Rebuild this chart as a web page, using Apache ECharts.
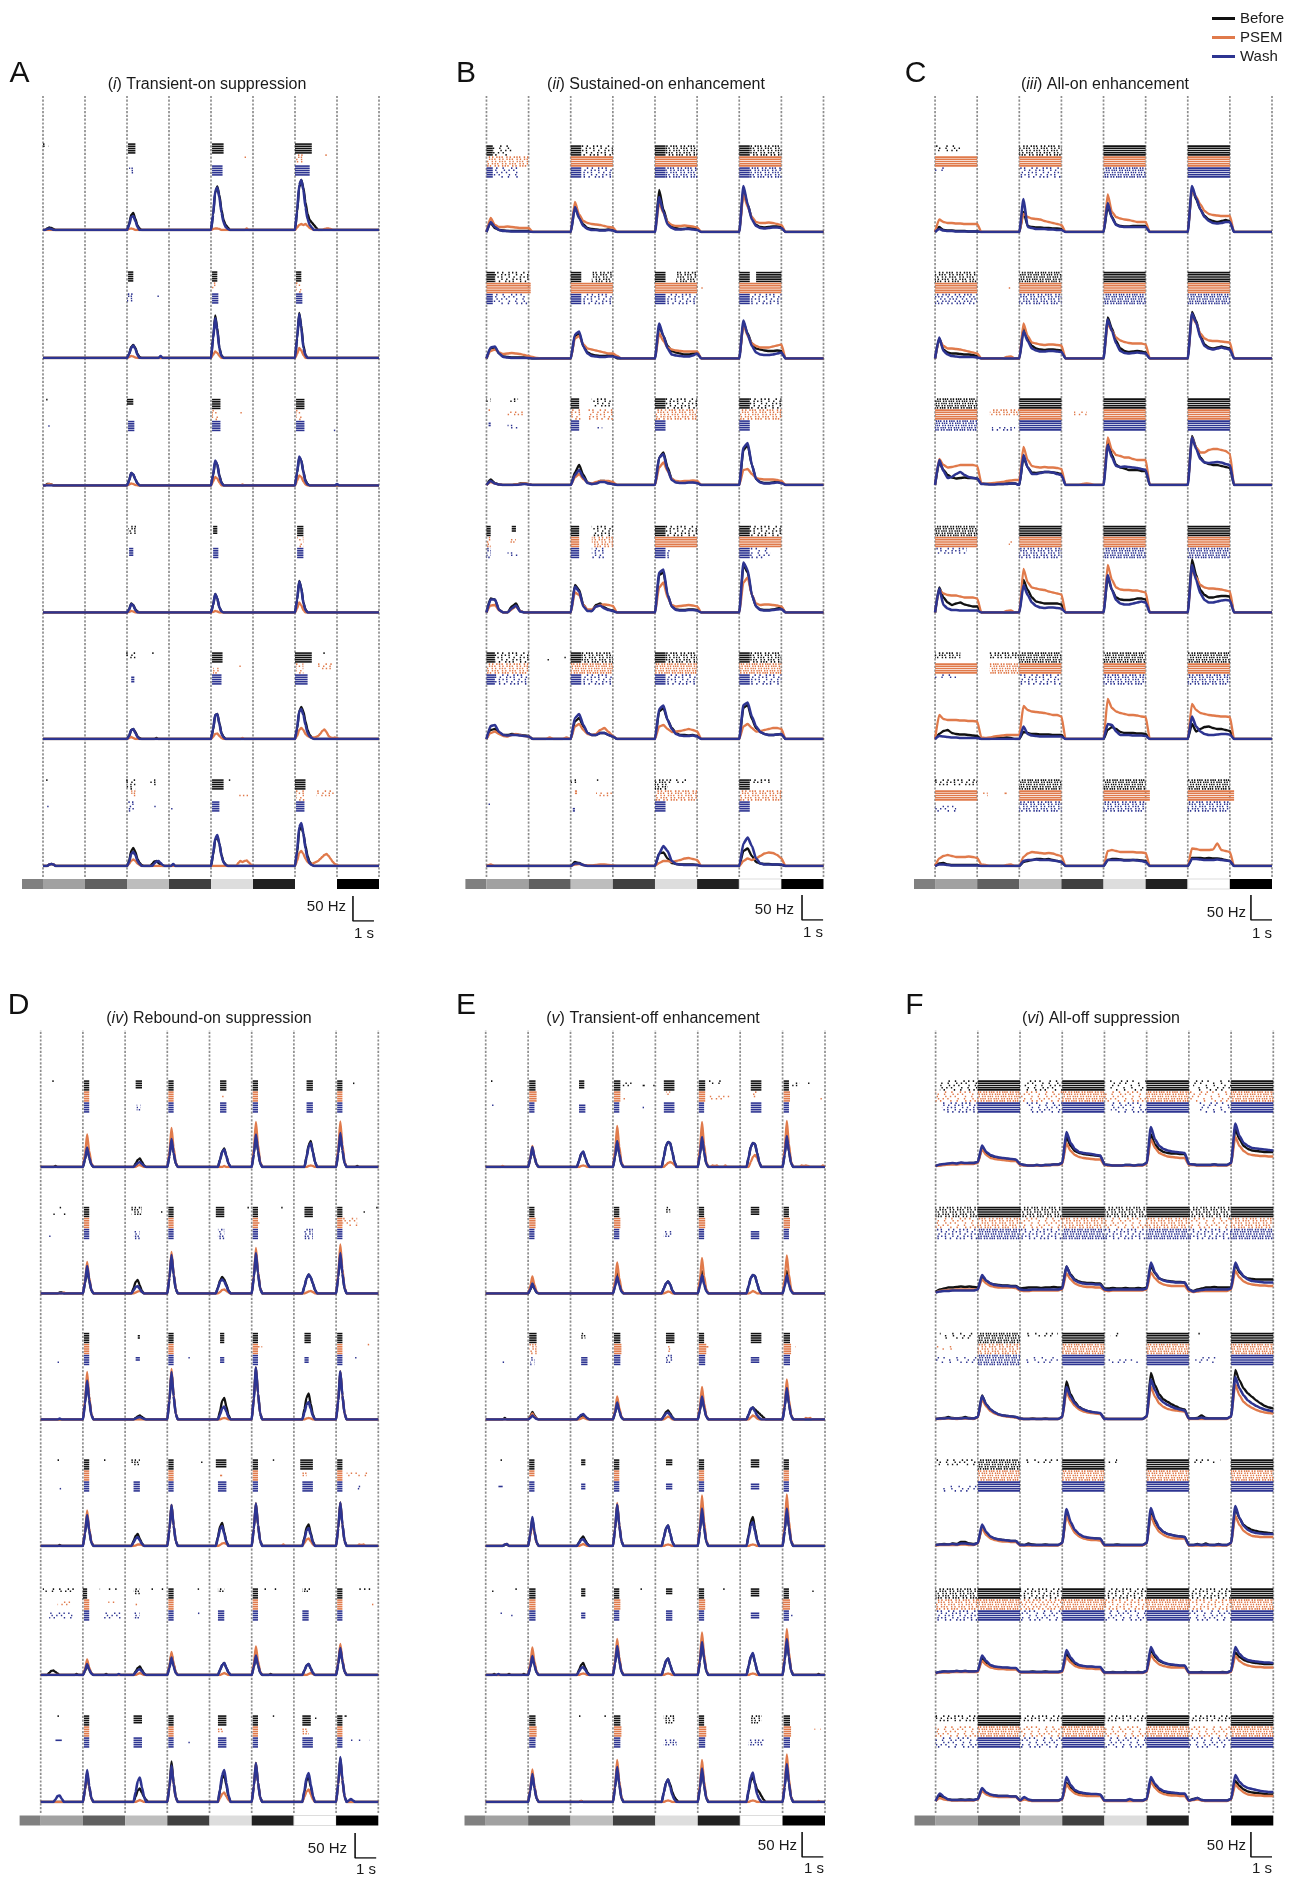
<!DOCTYPE html>
<html><head><meta charset="utf-8">
<script src="https://cdn.jsdelivr.net/npm/echarts@6/dist/echarts.min.js"></script>
<style>html,body{margin:0;padding:0;background:#fff}#c{width:1295px;height:1879px}</style>
</head><body><div id="c"></div>
<script>
// ---------------- DATA ----------------
const conditionNames = ['Before', 'PSEM', 'Wash'];
const panelLetters = ['A', 'B', 'C', 'D', 'E', 'F'];
const panelNumerals = ['i', 'ii', 'iii', 'iv', 'v', 'vi'];
const panelTitles = ['Transient-on suppression', 'Sustained-on enhancement', 'All-on enhancement',
  'Rebound-on suppression', 'Transient-off enhancement', 'All-off suppression'];
// stimulus: segment start/end (s) and luminance (0 black .. 1 white)
const stimStart = [-1, 0, 2, 4, 6, 8, 10, 12, 14];
const stimEnd = [0, 2, 4, 6, 8, 10, 12, 14, 16];
const stimLum = [0.5, 0.63, 0.375, 0.74, 0.25, 0.865, 0.13, 1, 0];
const transitionTimes = [0, 2, 4, 6, 8, 10, 12, 14, 16];
const scaleBarHz = 50, scaleBarSec = 1;
// PSTH sampling step (s) per panel
const psthStep = [0.1, 0.2, 0.2, 0.1, 0.1, 0.2];
// PSTH (Hz): per cell [Before, PSEM, Wash]; each a list of bursts [tStart, v(tStart), v(tStart+dt), ...]
const psthA = [
 [[[0.1,0,3,5,4,2,0],[4,0,12,30,34,22,9,3,0],[8,0,30,75,87,70,40,20,10,5,0],[12,0,35,85,100,85,55,32,20,15,10,5,0]],
  [[4,0,2,3,2,0],[8,0,2,3,3,2,0],[9.6,0,3,0],[12,0,5,10,12,10,12,8,4,2,0],[13.3,0,2,3,3,2,0]],
  [[0.1,0,2,3,2,0],[4,0,10,26,28,18,6,0],[8,0,30,78,85,65,35,15,6,2,0],[12,0,38,90,100,80,45,22,10,5,0]]],
 [[[4,0,8,22,26,20,8,2,0],[8,0,40,85,60,20,5,0],[12,0,40,90,65,25,6,0]],
  [[4,0,2,4,3,1,0],[8,0,6,13,10,4,0],[12,0,8,20,15,6,0]],
  [[4,0,8,20,25,18,6,0],[5.5,0,4,0],[8,0,38,80,55,18,4,0],[12,0,38,88,60,20,5,0]]],
 [[[0.1,0,3,3,2,0],[4,0,10,25,22,12,4,0],[8,0,20,48,42,20,6,0],[12,0,25,56,50,28,10,3,0]],
  [[0.1,0,2,3,2,0],[4,0,2,4,3,1,0],[8,0,8,17,14,6,0],[9.4,0,2,0],[12,0,9,20,17,8,2,0]],
  [[4,0,10,25,22,12,4,0],[8,0,22,50,42,18,5,0],[12,0,26,58,50,26,8,2,0],[13.9,0,3,0]]],
 [[[4,0,6,18,15,6,2,0],[8,0,15,37,28,10,2,0],[12,0,25,63,50,20,6,0]],
  [[4,0,1,3,2,0],[8,0,1,3,2,0],[12,0,8,20,14,5,0]],
  [[4,0,6,17,14,5,0],[8,0,15,37,28,10,2,0],[12,0,25,62,48,18,5,0]]],
 [[[4,0,6,18,20,14,5,2,0],[5.3,0,2,0],[8,0,18,48,50,32,12,4,0],[12,0,20,55,64,55,35,18,8,3,0]],
  [[4,0,2,4,2,0],[8,0,4,10,11,6,2,0],[9.4,0,2,0],[12,0,6,18,22,18,10,6,4,3,3,4,6,10,16,19,14,6,3,2,3,2,0]],
  [[4,0,6,18,20,12,4,0],[8,0,20,48,50,30,10,3,0],[12,0,22,55,60,48,28,12,5,2,0]]],
 [[[0.2,0,3,4,3,0],[4,0,10,30,36,28,14,6,2,0],[5.1,0,4,9,10,6,2,0],[6.1,0,3,0],[8,0,22,52,58,45,22,8,3,0],[12,0,25,70,80,65,40,20,8,3,0]],
  [[0.2,0,3,4,3,0],[4,0,4,10,13,10,5,2,0],[9.2,0,6,10,8,10,11,7,3,0],[12,0,10,26,30,24,14,8,5,4,6,8,10,14,18,22,24,20,14,8,4,2,0]],
  [[0.2,0,3,4,3,0],[4,0,8,24,28,22,10,4,0],[5.2,0,5,9,10,6,2,0],[6.1,0,4,0],[8,0,24,55,62,45,20,7,2,0],[12,0,30,78,86,65,35,15,5,2,0]]]
];
const psthB = [
 [[[0,0,18,8,4,3,2,2,2,2,2,2,0],[4,0,50,30,15,8,6,5,4,4,5,4,0],[8,0,84,45,20,10,8,6,6,8,8,6,0],[12,0,85,55,28,14,10,9,10,11,11,10,0]],
  [[0,0,28,14,10,10,11,10,9,8,8,8,0],[4,0,60,35,22,18,16,15,14,12,10,9,0],[8,0,58,38,20,14,12,12,13,12,11,9,0],[12,0,75,50,30,20,18,18,19,18,16,14,0]],
  [[0,0,20,10,4,2,2,1,1,1,1,1,0],[4,0,50,28,12,6,4,4,3,3,4,3,0],[8,0,70,40,15,8,5,5,6,6,5,4,0],[12,0,92,55,25,12,8,7,8,9,9,8,0]]],
 [[[0,0,20,22,10,4,3,2,2,2,2,1,0],[4,0,45,50,25,12,8,6,5,5,6,6,0],[8,0,65,45,25,15,12,10,8,8,10,12,0],[12,0,72,50,30,20,18,16,15,15,16,15,0]],
  [[0,0,15,18,12,9,10,11,10,9,7,5,3,1,0],[4,0,40,45,28,20,18,16,14,12,10,10,5,0],[8,0,50,35,22,18,16,15,14,14,14,14,0],[12,0,68,45,30,25,22,22,22,24,26,28,0]],
  [[0,0,22,24,10,3,2,1,1,1,1,1,0],[4,0,48,54,24,10,5,4,3,3,4,4,2,0],[8,0,70,45,20,8,6,5,4,4,6,10,0],[12,0,76,48,25,12,8,7,7,8,10,12,0]]],
 [[[0,0,11,4,1,0,0,0,1,3,3,2,0],[4,0,25,40,20,5,2,4,8,8,4,2,0],[8,0,55,65,35,12,6,5,5,6,6,5,0],[12,0,70,80,40,12,6,4,4,5,8,6,0]],
  [[0,0,6,3,1,0,0,0,1,2,3,2,0],[4,0,15,22,12,5,3,6,8,8,8,6,0],[8,0,35,45,28,12,8,7,8,8,9,8,0],[12,0,30,32,22,14,12,11,11,11,10,8,0]],
  [[0,0,8,3,1,0,0,0,0,1,2,1,0],[4,0,20,30,15,4,2,3,6,6,3,2,0],[8,0,55,62,30,10,5,4,4,5,5,4,0],[12,0,75,84,40,12,5,3,3,4,5,4,0]]],
 [[[0,0,28,26,5,0,0,12,18,3,0,0,0],[4,0,55,45,15,4,3,15,18,10,6,4,0],[8,0,75,80,35,12,6,5,5,6,6,5,0],[12,0,95,80,35,12,6,5,5,6,8,10,0]],
  [[0,0,14,15,4,0,0,6,12,3,0,0,0],[4,0,40,35,15,6,6,12,15,16,15,13,0],[8,0,50,60,30,15,12,13,14,15,14,12,0],[12,0,60,70,35,18,15,16,16,15,14,12,0]],
  [[0,0,26,26,5,0,0,8,14,2,0,0,0],[4,0,52,42,12,3,3,12,14,8,5,3,0],[8,0,80,86,35,12,5,4,4,5,5,4,0],[12,0,100,85,35,12,5,4,4,5,6,7,0]]],
 [[[0,0,18,20,12,8,8,10,9,8,7,6,0],[4,0,35,42,25,12,8,8,12,12,8,5,0],[8,0,55,62,38,22,12,8,8,7,8,6,0],[12,0,62,68,40,22,14,10,8,8,9,10,0]],
  [[0,0,12,15,10,6,5,8,10,8,6,5,0],[2.8,0,3,0],[3.6,0,3,0],[4,0,25,30,18,10,8,10,18,22,14,6,0],[8,0,25,28,20,14,15,16,18,20,18,15,0],[12,0,25,30,22,15,16,18,20,22,22,20,0]],
  [[0,0,26,28,14,8,7,8,8,7,6,5,0],[4,0,42,50,28,12,8,8,12,12,8,5,0],[8,0,60,67,38,20,10,7,6,6,7,5,0],[12,0,68,73,45,25,14,10,8,8,9,10,0]]],
 [[[4,0,8,6,2,0],[8,0,25,27,15,6,4,3,3,3,3,2,0],[12,0,30,35,20,8,5,4,4,3,3,2,0]],
  [[0,0,3,0],[4,0,3,4,2,1,1,2,3,3,2,1,0],[8,0,6,10,10,8,10,12,15,16,14,12,0],[12,0,10,15,12,15,20,25,27,26,22,15,0]],
  [[4,0,5,5,2,0],[8,0,25,40,30,10,4,3,2,2,2,2,0],[12,0,45,57,40,15,5,3,3,3,3,3,0]]]
];
const psthC = [
 [[[0,0,10,4,3,3,2,2,2,1,1,1,0],[4,0,40,12,10,9,9,8,8,7,7,6,0],[8,0,50,30,15,12,11,11,12,12,12,12,0],[12,0,88,65,45,32,25,22,20,22,24,22,0]],
  [[0,0,25,20,18,18,17,17,16,16,16,16,0],[4,0,36,30,27,26,25,22,20,18,16,14,0],[8,0,75,40,30,27,25,24,22,20,20,20,0],[12,0,85,70,55,42,36,34,33,32,32,32,0]],
  [[0,0,6,3,2,2,1,1,1,1,1,1,0],[4,0,66,10,8,6,6,6,5,5,4,4,0],[8,0,58,28,14,11,10,10,10,10,10,10,0],[12,0,92,68,45,30,22,18,17,18,20,20,0]]],
 [[[0,0,40,18,12,10,10,9,8,8,7,5,0],[4,0,60,40,25,20,18,17,18,18,17,16,0],[8,0,82,60,35,20,15,13,14,15,14,12,0],[12,0,93,75,45,28,22,20,22,24,22,20,0]],
  [[0,0,38,25,20,20,19,18,16,14,12,10,0],[3.2,0,3,4,0],[4,0,70,45,32,30,28,27,28,28,27,26,0],[8,0,70,55,42,36,33,31,30,30,30,28,0],[12,0,85,70,50,40,36,35,35,34,33,32,0]],
  [[0,0,42,15,8,5,4,3,3,3,3,2,0],[4,0,55,35,20,16,14,14,15,15,14,13,0],[8,0,78,55,30,15,11,10,11,12,11,10,0],[12,0,90,72,42,25,20,18,20,22,20,18,0]]],
 [[[0,0,45,30,20,15,13,14,15,14,14,13,3,2,2,2,2,2,3,3,3,0],[4,0,55,35,25,24,25,26,26,25,24,22,0],[8,0,90,60,40,35,33,30,30,30,28,28,0],[12,0,98,75,55,45,42,40,40,38,36,34,0]],
  [[0,0,52,40,35,36,38,40,40,40,40,38,4,2,3,4,5,6,8,9,10],[4,10,76,50,38,36,35,36,35,35,34,32,0],[6.8,0,2,3,2,0],[8,0,95,70,60,58,55,55,52,50,50,50,0],[12,0,95,75,65,65,70,72,72,70,68,62,0]],
  [[0,0,50,28,14,16,22,26,20,16,14,13,2,2,1,1,2,2,2,3,3,0],[4,0,60,35,22,22,24,26,26,25,22,20,0],[8,0,80,55,38,36,37,36,35,34,32,30,0],[12,0,95,72,52,45,44,45,46,45,42,40,0]]],
 [[[0,0,50,30,20,15,18,20,16,14,12,12,0],[4,0,65,45,30,22,20,18,18,18,18,16,0],[8,0,70,45,30,26,25,25,26,28,28,26,0],[12,0,106,75,45,35,30,30,32,33,33,32,0]],
  [[0,0,45,38,35,34,34,32,30,30,30,28,0],[3.2,0,3,4,0],[4,0,87,60,50,48,46,45,42,40,38,36,0],[8,0,95,65,50,46,45,45,44,44,42,40,0],[12,0,85,70,55,50,48,48,47,46,44,42,0]],
  [[0,0,48,15,8,5,5,4,4,4,4,4,0],[4,0,55,35,20,13,10,9,10,10,9,8,0],[8,0,75,45,25,18,16,16,18,20,22,20,0],[12,0,95,65,38,25,20,20,22,24,25,24,0]]],
 [[[0,0,10,16,18,12,10,9,9,8,7,6,0],[2.6,0,2,3,2,3,2,0],[4,0,14,12,10,10,9,9,9,8,8,8,0],[8,0,18,24,20,14,12,12,12,11,11,10,0],[12,0,30,15,20,24,25,22,20,20,18,16,0]],
  [[0,0,48,40,38,38,38,37,37,36,36,35,3,2,3,5,6,7,8,8,8],[4,8,66,58,55,54,53,52,50,48,48,45,0],[8,0,80,62,55,52,50,48,48,47,45,44,0],[12,0,70,58,52,50,48,47,46,45,45,44,0]],
  [[0,0,6,5,4,3,3,2,2,2,2,2,0],[4,0,25,10,7,6,5,5,5,5,5,5,0],[8,0,30,28,15,8,8,8,7,7,7,6,0],[12,0,45,25,15,10,8,8,9,10,10,9,0]]],
 [[[0,0,5,6,3,2,2,2,2,2,2,2,0],[4,0,8,10,12,14,14,13,14,12,10,8,0],[8,0,12,14,14,13,12,12,12,12,11,10,0],[12,0,16,16,16,15,16,15,15,14,12,10,0]],
  [[0,0,15,20,22,20,18,18,18,19,18,16,3,2,0],[3.2,0,2,3,0],[4,0,18,25,28,27,26,25,26,25,22,20,0],[8,0,30,32,30,28,28,28,28,27,27,26,0],[12,0,35,34,32,32,32,33,45,32,30,28,0]],
  [[0,0,3,3,2,1,1,1,1,1,1,1,0],[4,0,10,12,12,13,12,12,12,11,10,8,0],[8,0,12,12,12,12,11,11,12,11,10,8,0],[12,0,14,14,13,12,12,12,13,12,11,10,0]]]
];
const psthD = [
 [[[0.6,0,2,0],[2,0,15,38,19,5,0],[4.4,0,7,14,17,10,3,0],[6,0,22,55,28,7,0],[8.4,0,15,31,37,22,7,0],[10,0,26,65,32,8,0],[12.5,0,21,44,52,31,10,0],[14,0,27,68,34,8,0],[14.9,0,2,0]],
  [[2,0,26,65,32,8,0],[4.5,0,3,4,2,0],[6,0,31,78,39,9,0],[8.6,0,2,0],[10,0,36,90,45,11,0],[12.6,0,2,3,2,0],[14,0,36,91,45,11,0]],
  [[2,0,16,39,19,5,0],[4.4,0,4,8,10,6,2,0],[6,0,22,56,28,7,0],[8.4,0,14,30,35,21,7,0],[10,0,26,65,32,8,0],[12.5,0,19,41,48,29,10,0],[14,0,27,68,34,8,0]]],
 [[[0.8,0,2,2,0],[2,0,20,50,25,6,0],[4.3,0,11,23,27,16,5,0],[6,0,31,77,38,9,0],[8.3,0,12,26,33,28,18,6,0],[10,0,32,81,40,10,0],[12.4,0,14,30,38,32,20,7,0],[14,0,32,81,40,10,0]],
  [[1.0,0,2,0],[2,0,25,63,31,8,0],[4.4,0,2,4,5,3,0],[6,0,33,83,41,10,0],[8.4,0,3,7,8,5,2,0],[10,0,36,91,45,11,0],[12.5,0,2,4,5,3,0],[14,0,39,98,49,12,0]],
  [[2,0,22,55,27,7,0],[4.3,0,6,13,15,9,3,0],[6,0,31,77,38,9,0],[8.3,0,11,24,28,24,15,5,0],[10,0,32,81,40,10,0],[12.4,0,14,30,38,32,20,7,0],[14,0,32,81,40,10,0]]],
 [[[2,0,32,80,40,10,0],[4.4,0,3,6,8,5,2,0],[6,0,38,95,47,11,0],[8.4,0,17,37,43,26,9,0],[10,0,42,104,52,12,0],[12.4,0,21,44,52,31,10,0],[14,0,38,96,48,12,0]],
  [[2,0,38,95,47,11,0],[6,0,40,101,50,12,0],[8.5,0,2,3,2,0],[10,0,42,104,52,12,0],[12.5,0,2,3,2,0],[14,0,38,96,48,12,0]],
  [[0.8,0,2,0],[2,0,31,78,39,9,0],[4.4,0,2,4,5,3,1,0],[6,0,38,95,47,11,0],[8.4,0,10,22,26,16,5,0],[10,0,42,104,52,12,0],[12.4,0,14,30,35,21,7,0],[14,0,38,96,48,12,0]]],
 [[[0.8,0,2,0],[2,0,25,62,31,7,0],[4.3,0,10,20,24,14,5,0],[6,0,33,82,41,10,0],[8.3,0,18,39,46,28,9,0],[10,0,34,85,42,10,0],[12.4,0,17,37,43,26,9,0],[14,0,35,87,43,10,0]],
  [[2,0,28,71,35,9,0],[4.4,0,1,3,3,2,0],[6,0,33,82,41,10,0],[8.4,0,2,5,6,4,1,0],[10,0,34,85,42,10,0],[11.4,0,3,0],[12.4,0,6,13,15,9,3,0],[14,0,35,87,43,10,0],[15.0,0,3,2,3,0]],
  [[2,0,25,62,31,7,0],[4.3,0,7,15,18,11,4,0],[6,0,33,82,41,10,0],[8.3,0,16,34,40,24,8,0],[10,0,34,85,42,10,0],[12.4,0,14,31,36,22,7,0],[14,0,35,87,43,10,0]]],
 [[[0.3,0,4,8,9,6,3,0],[1.6,0,2,0],[2,0,8,20,10,3,0],[3.0,0,2,0],[4.4,0,7,14,17,10,3,0],[6,0,17,42,21,5,0],[8.4,0,10,20,24,14,5,0],[10,0,16,39,20,5,0],[10.8,0,2,0],[12.4,0,9,19,22,13,4,0],[14,0,22,54,27,7,0]],
  [[2,0,12,31,15,4,0],[4.5,0,2,4,2,0],[6,0,18,46,23,6,0],[8.5,0,2,4,2,0],[10,0,23,57,28,7,0],[12.6,0,2,4,2,0],[14,0,25,62,31,8,0]],
  [[2,0,9,22,11,3,0],[3.6,0,2,0],[4.4,0,5,10,12,7,2,0],[6,0,14,35,17,4,0],[8.4,0,10,20,24,14,5,0],[10,0,16,39,20,5,0],[12.4,0,9,19,22,13,4,0],[14,0,22,54,27,7,0]]],
 [[[2,0,23,58,29,7,0],[4.4,0,11,23,27,18,10,4,0],[6,0,32,81,40,10,0],[8.4,0,23,47,55,33,11,0],[10,0,31,78,39,9,0],[12.4,0,20,43,50,30,10,0],[14,0,35,88,44,11,0]],
  [[2,0,24,60,30,7,0],[4.5,0,2,4,2,0],[6,0,28,70,35,8,0],[8.4,0,8,16,19,11,4,0],[10,0,31,78,39,9,0],[12.4,0,10,21,25,15,5,0],[14,0,34,85,42,10,0]],
  [[0.6,0,5,12,13,6,0],[2,0,26,64,32,8,0],[4.4,0,20,42,49,29,10,0],[6,0,29,73,36,9,0],[8.4,0,26,54,64,38,13,0],[10,0,31,78,39,9,0],[12.4,0,23,49,58,35,12,0],[14,0,36,90,45,11,0],[14.5,0,3,6,3,0]]]
];
const psthE = [
 [[[2,0,15,38,19,5,0],[4.3,0,12,26,30,18,6,0],[6,0,21,52,26,6,0],[8.3,0,20,42,50,48,30,10,0],[10,0,24,60,30,7,0],[12.3,0,19,40,48,46,28,9,0],[14,0,25,62,31,8,0]],
  [[0.7,0,2,0],[2,0,17,42,21,5,0],[4.4,0,2,3,2,0],[6,0,33,82,41,10,0],[8.4,0,4,8,10,8,4,0],[10,0,36,90,45,11,0],[10.6,0,3,2,3,0],[11.2,0,3,0],[12.4,0,10,20,24,18,8,0],[14,0,37,92,46,11,0],[14.8,0,3,2,3,2,0],[15.8,0,3,0]],
  [[2,0,16,40,20,5,0],[4.3,0,12,26,31,18,6,0],[6,0,21,52,26,6,0],[8.3,0,20,42,50,48,30,10,0],[10,0,24,60,30,7,0],[12.3,0,19,40,48,46,28,9,0],[14,0,25,62,31,8,0]]],
 [[[2,0,7,18,9,2,0],[6,0,16,40,20,5,0],[8.3,0,10,20,24,18,6,0],[10,0,18,45,22,6,0],[12.3,0,15,31,37,35,20,6,0],[14,0,18,45,22,6,0]],
  [[2,0,14,34,17,4,0],[6,0,25,62,31,8,0],[8.4,0,2,4,3,0],[10,0,28,71,35,9,0],[12.4,0,2,5,3,0],[14,0,30,76,38,9,0]],
  [[2,0,8,20,10,2,0],[6,0,14,34,17,4,0],[8.3,0,10,20,24,18,6,0],[10,0,15,37,18,5,0],[12.3,0,15,31,37,35,20,6,0],[14,0,15,37,18,5,0]]],
 [[[0.8,0,3,0],[2,0,6,15,8,2,0],[4.3,0,4,7,8,5,2,0],[6,0,13,34,17,4,0],[8.3,0,7,15,18,12,5,0],[10,0,18,46,23,6,0],[12.3,0,10,20,24,20,16,12,8,4,0],[14,0,25,63,31,8,0]],
  [[2,0,5,12,6,2,0],[4.4,0,2,4,2,0],[6,0,18,46,23,6,0],[8.4,0,3,6,4,0],[10,0,26,65,32,8,0],[12.4,0,4,8,6,2,0],[14,0,32,80,40,10,0],[15.0,0,3,2,3,0]],
  [[2,0,3,8,4,1,0],[4.3,0,5,9,11,6,2,0],[6,0,13,34,17,4,0],[8.3,0,6,12,14,9,3,0],[10,0,18,46,23,6,0],[12.3,0,10,22,24,16,8,3,0],[14,0,25,63,31,8,0]]],
 [[[0.8,0,2,3,0],[2,0,22,55,27,7,0],[4.3,0,7,15,19,11,4,0],[6,0,33,83,41,10,0],[8.3,0,17,35,41,25,8,0],[10,0,30,75,37,9,0],[12.3,0,23,49,58,35,12,0],[14,0,30,75,37,9,0]],
  [[0.8,0,3,4,0],[2,0,20,50,25,6,0],[4.4,0,2,4,2,0],[6,0,34,86,43,10,0],[8.4,0,2,3,2,0],[10,0,40,101,50,12,0],[12.4,0,2,3,2,0],[14,0,41,103,51,12,0]],
  [[0.8,0,3,4,0],[2,0,23,58,29,7,0],[4.3,0,6,12,14,8,3,0],[6,0,33,83,41,10,0],[8.3,0,17,35,41,25,8,0],[10,0,30,75,37,9,0],[12.3,0,20,41,48,29,10,0],[14,0,30,75,37,9,0]]],
 [[[0.3,0,2,0],[1.0,0,2,0],[1.7,0,2,0],[2,0,16,40,20,5,0],[4.3,0,10,20,24,14,5,0],[6,0,23,58,29,7,0],[8.3,0,14,28,33,20,7,0],[10,0,26,66,33,8,0],[12.3,0,18,36,42,25,8,0],[14,0,29,72,36,9,0],[15.6,0,2,0]],
  [[2,0,22,55,27,7,0],[4.4,0,2,3,2,0],[6,0,29,72,36,9,0],[8.4,0,2,3,2,0],[10,0,34,85,42,10,0],[12.4,0,2,3,2,0],[14,0,37,92,46,11,0]],
  [[0.5,0,2,0],[2,0,15,38,19,5,0],[4.3,0,7,14,16,10,3,0],[6,0,23,58,29,7,0],[8.3,0,14,28,33,20,7,0],[10,0,26,66,33,8,0],[12.3,0,18,37,44,26,9,0],[14,0,29,72,36,9,0]]],
 [[[2,0,22,56,28,7,0],[4.4,0,2,0],[6,0,28,70,35,8,0],[8.3,0,19,38,45,35,20,10,4,0],[10,0,27,67,33,8,0],[12.3,0,21,42,50,38,25,20,12,5,0],[14,0,30,76,38,9,0]],
  [[2,0,26,65,32,8,0],[4.4,0,2,0],[6,0,34,84,42,10,0],[8.4,0,2,3,2,0],[10,0,34,84,42,10,0],[12.4,0,2,3,2,0],[14,0,38,95,47,11,0],[15.6,0,2,0]],
  [[2,0,22,56,28,7,0],[6,0,28,70,35,8,0],[8.3,0,19,38,45,30,14,5,0],[10,0,27,67,33,8,0],[12.3,0,25,50,59,35,15,6,0],[14,0,30,76,38,9,0]]]
];
const psthF = [
 [[[0,2,4,5,6,7,6,8,7,8,8, 10,38,28,22,20,18,17,16,15,14, 6,4,3,3,4,3,4,4,5,5, 8,60,42,32,28,26,25,24,23,22, 5,4,3,3,3,4,4,3,4,4, 8,65,45,35,30,28,27,27,26,26, 6,5,4,4,4,4,5,4,4,4, 8,75,55,42,36,33,32,31,30,30, 30]],
  [[0,2,3,4,5,5,5,6,6,6,6, 8,35,24,18,16,15,14,13,12,12, 4,3,3,3,3,3,3,4,4,4, 6,47,32,24,20,18,17,16,15,15, 4,3,3,3,3,3,3,3,3,3, 6,55,38,28,24,21,20,19,18,18, 4,4,3,3,3,3,3,3,3,3, 6,60,42,32,26,24,23,22,22,21, 21]],
  [[0,2,5,6,7,8,7,9,8,8,8, 10,43,30,24,21,19,18,17,16,15, 6,4,3,3,4,3,4,4,5,5, 8,70,48,36,30,28,27,26,24,23, 5,4,3,3,3,4,4,3,4,4, 8,80,55,42,36,33,31,30,29,28, 6,5,4,4,4,4,5,4,4,4, 8,87,62,48,42,38,37,36,35,34, 33]]],
 [[[0,3,8,10,12,12,13,14,13,14,13, 12,33,25,20,18,17,16,16,15,15, 10,11,12,12,12,11,12,12,13,12, 12,54,38,28,24,22,21,21,20,20, 10,10,11,10,10,11,10,10,11,10, 12,55,40,30,27,25,24,23,23,22, 8,5,8,10,12,12,13,12,12,12, 12,58,42,34,30,29,28,28,28,28, 28]],
  [[0,2,5,6,7,7,8,8,8,8,8, 8,28,20,15,13,12,12,12,12,11, 6,5,5,6,6,6,6,6,6,6, 8,40,28,20,16,14,13,13,12,12, 6,5,6,6,6,6,6,6,6,6, 8,42,30,22,18,16,15,15,15,15, 5,3,4,5,5,5,5,5,5,5, 8,45,32,24,20,18,17,16,16,15, 15]],
  [[0,2,4,5,5,6,6,6,6,6,6, 8,37,26,20,17,16,15,15,14,14, 8,7,7,8,8,8,8,8,8,8, 10,54,36,26,22,20,19,19,18,18, 8,7,8,8,8,8,8,8,8,8, 10,62,42,30,26,24,23,22,22,22, 8,4,6,7,8,8,8,8,8,8, 10,62,45,34,28,25,24,23,22,22, 22]]],
 [[[0,1,2,3,5,3,2,3,5,3,2, 5,48,30,20,14,10,8,7,6,5, 2,1,1,2,1,1,2,1,1,1, 5,76,50,35,25,20,17,15,13,12, 2,1,1,1,1,1,1,1,1,1, 6,93,68,50,40,35,30,26,22,20, 2,2,3,8,3,2,2,2,2,2, 6,99,78,62,52,45,38,32,27,24, 22]],
  [[0,1,1,2,2,2,1,2,2,2,1, 4,40,26,17,12,9,7,6,5,4, 1,1,1,1,1,1,1,1,1,1, 4,55,38,27,20,16,14,13,12,11, 1,1,1,1,1,1,1,1,1,1, 5,65,45,32,25,21,19,18,17,16, 1,1,1,1,1,1,1,1,1,1, 5,70,48,35,28,23,19,16,14,13, 12]],
  [[0,1,2,2,3,2,2,2,3,2,2, 5,47,30,20,14,10,8,7,6,5, 2,1,1,1,1,1,1,1,1,1, 5,65,45,32,24,20,17,15,14,13, 1,1,1,1,1,1,1,1,1,1, 6,80,58,42,34,29,25,22,20,18, 2,2,2,4,2,2,2,2,2,2, 6,85,62,48,38,32,27,23,20,18, 16]]],
 [[[0,2,3,4,3,5,4,8,8,5,4, 6,38,26,18,15,13,12,11,10,10, 3,2,5,3,2,2,3,2,2,2, 6,68,45,30,22,18,16,15,15,14, 2,2,2,3,2,2,2,2,2,2, 6,68,48,35,28,24,22,20,19,18, 2,2,4,2,5,2,2,4,2,2, 6,75,55,42,36,32,30,28,27,26, 25]],
  [[0,1,2,2,2,2,2,3,3,2,2, 5,35,22,15,12,10,9,9,8,8, 1,1,1,1,1,1,1,1,1,1, 5,60,40,26,19,15,13,12,12,11, 1,1,1,1,1,1,1,1,1,1, 5,60,40,28,22,18,16,15,15,15, 1,1,1,1,1,2,1,1,1,1, 5,60,42,30,24,20,19,18,18,18, 18]],
  [[0,2,3,3,3,4,3,5,5,4,3, 6,43,28,19,15,13,12,11,10,10, 2,2,3,2,2,2,2,2,2,2, 6,74,48,32,24,19,17,16,15,15, 2,2,2,2,2,2,2,2,2,2, 6,76,52,36,28,24,22,20,19,18, 2,2,3,2,3,2,2,3,2,2, 6,80,56,40,32,28,26,25,24,24, 24]]],
 [[[0,4,6,7,6,7,8,7,8,7,7, 8,32,24,18,16,15,14,14,13,13, 6,6,6,7,6,6,7,6,6,6, 8,42,30,22,18,17,16,16,15,15, 5,5,6,5,5,6,5,5,6,5, 8,50,36,28,24,22,20,19,18,18, 5,5,5,6,5,5,5,5,6,5, 8,45,36,30,27,25,24,23,22,22, 22]],
  [[0,3,5,5,5,6,6,6,6,6,6, 6,28,20,15,13,12,12,11,11,11, 5,5,5,5,5,5,5,5,5,5, 6,35,25,18,15,14,13,13,12,12, 4,4,4,4,4,4,4,4,4,4, 6,40,28,21,18,16,15,15,15,15, 4,4,4,4,4,4,4,4,4,4, 6,38,28,22,19,17,16,16,15,15, 15]],
  [[0,4,6,7,7,7,8,7,8,7,7, 8,39,28,20,17,16,15,15,14,14, 6,6,6,6,6,6,6,6,6,6, 8,50,35,25,20,18,17,17,16,16, 5,5,5,5,5,5,5,5,5,5, 8,56,40,30,25,22,21,20,19,19, 5,5,5,5,5,5,5,5,5,5, 8,56,42,34,30,28,27,26,25,25, 24]]],
 [[[0,2,12,8,5,4,4,5,4,5,4, 6,26,18,14,13,12,12,12,11,11, 3,8,4,3,3,3,3,3,3,3, 6,38,28,20,17,16,15,15,14,14, 3,3,3,3,3,3,3,3,3,3, 6,45,32,24,20,18,17,16,15,15, 3,6,8,4,3,3,3,3,3,3, 6,42,32,25,21,19,18,17,16,15, 15]],
  [[0,2,8,5,4,3,3,3,3,3,3, 5,22,15,12,11,10,10,10,10,10, 2,5,3,2,2,2,2,2,2,2, 5,35,24,17,14,13,12,12,12,12, 2,2,2,2,2,2,2,2,2,2, 5,40,28,20,16,14,13,13,12,12, 2,4,5,3,2,2,2,2,2,2, 5,35,26,19,15,14,13,13,12,12, 12]],
  [[0,2,17,10,5,4,4,4,4,4,4, 6,28,19,15,13,12,12,12,11,11, 3,10,5,3,3,3,3,3,3,3, 6,50,34,24,20,18,17,16,16,15, 3,3,3,3,3,3,6,3,3,3, 6,50,36,27,22,20,19,18,17,17, 3,5,8,4,3,3,3,3,3,3, 6,54,40,32,28,26,24,22,21,20, 20]]]
];
// Rasters: per cell [Before, PSEM, Wash]; entries [t0,t1] (trials 1-5, dense),
// [t0,t1,density], [t0,t1,firstTrial,lastTrial], or [t0,t1,firstTrial,lastTrial,density]
const rasterA = [
 [[[0,0.25,0,1,3],[4.05,4.4],[8.05,8.6],[12,12.8]],[[12.05,12.4,0,3,2],[13.3,13.6,0,0,2],[9.6,9.65,1,1,1]],[[4.1,4.3,1,3,2],[8.05,8.55],[12,12.7]]],
 [[[4.05,4.3],[8.05,8.3],[12.05,12.3]],[[8.05,8.25,0,2,2],[12.05,12.3,3]],[[4,4.3,0,3,2],[5.45,5.5,1,1,1],[8.05,8.35],[12.05,12.35]]],
 [[[0.15,0.2,0,0,1],[4,4.3,0,2,1],[8.05,8.45],[12.05,12.45]],[[8.05,8.35,3],[9.4,9.45,1,1,1],[12.05,12.35,3]],[[0.25,0.3,2,2,1],[4.05,4.35],[8.05,8.45],[12.05,12.45],[13.85,13.9,4,4,1]]],
 [[[4.05,4.45,0,3,2],[8.1,8.3,0,3,1],[12.1,12.4]],[[12.1,12.4,3]],[[4.1,4.3,0,3,1],[8.1,8.35],[12.1,12.4]]],
 [[[3.95,4.4,0,2,3],[5.2,5.25,0,0,1],[8.05,8.55],[12,12.8],[13.35,13.4,0,0,1]],[[8.1,8.4,2,4,2],[9.35,9.4,1,1,1],[12.05,12.4,3],[13.1,13.8,0,2,3]],[[4.2,4.35,1,3,1],[8.05,8.5],[12,12.6]]],
 [[[0.15,0.2,0,0,1],[3.95,4.4,3],[5.1,5.4,0,2,3],[8.05,8.6],[8.85,8.9,0,0,1],[12,12.5]],[[4.2,4.4,0,2,2],[9.2,9.8,2,2,3],[12.05,12.45,3],[13,13.9,0,2,3]],[[0.2,0.25,2,2,1],[4.05,4.4,3],[5.3,5.35,2,2,1],[6.1,6.15,3,3,1],[8.05,8.4],[12.05,12.45]]]
];
const rasterB = [
 [[[0,0.3],[0.3,1.2,4],[4,4.5],[4.5,6,3],[8,8.5],[8.5,10,2],[12,12.5],[12.5,14,2]],[[0,2,2],[4,6,1],[8,10,1],[12,14,1]],[[0,0.3],[0.3,1.5,4],[4,4.5],[4.5,6,3],[8,8.5],[8.5,10,2],[12,12.5],[12.5,14,2]]],
 [[[0,0.4],[0.4,2,3],[4,4.5],[5,6,2],[8,8.5],[9,10,2],[12,12.5],[12.8,14,1]],[[0,2.1,1],[4,6,1],[8,10,1],[10.2,10.25,2,2,1],[12,14,1]],[[0,0.3],[0.3,2,4],[4,4.5],[4.5,6,3],[8,8.5],[8.5,10,3],[12,12.5],[12.5,14,3]]],
 [[[0,0.2,0,1,2],[1.1,1.5,0,1,3],[4,4.4],[5,5.9,0,3,3],[8,8.5],[8.5,10,3],[12,12.5],[12.5,14,3]],[[0.1,0.15,0,0,1],[1,1.8,1,2,3],[4,4.5,3],[4.8,6,3],[8,8.5,2],[8.5,10,2],[12,14,2]],[[0.1,0.2,1,2,1],[1,1.5,2,3,3],[4,4.4],[5.2,5.5,3,3,2],[8,8.5],[12,12.5]]],
 [[[0,0.2],[1.2,1.4,0,2,1],[4,4.4],[5,6,3],[8,8.5],[8.5,10,3],[12,12.5],[12.5,14,3]],[[0,0.2,2],[1.1,1.4,1,2,2],[4,4.4],[5,6,2],[8,10,1],[12,14,1]],[[0,0.2,2],[1,1.5,2,3,3],[4,4.4],[5,5.6,3],[8,8.5],[8.5,8.7,3],[12,12.5],[12.5,13.5,4]]],
 [[[0,0.4],[0.4,2,3],[2.9,2.95,3,3,1],[3.7,3.75,2,2,1],[4,4.5],[4.5,6,2],[8,8.5],[8.5,10,2],[12,12.5],[12.5,14,2]],[[0,2,2],[4,6,1.5],[8,10,1.5],[12,14,1.5]],[[0,0.4],[0.4,2,3],[4,4.5],[4.5,6,3],[8,8.5],[8.5,10,3],[12,12.5],[12.5,14,3]]],
 [[[4,4.3,0,1,2],[5.2,5.4,0,0,2],[8,8.6,2],[8.6,9.5,0,1,4],[12,12.5],[12.5,13.5,0,1,3]],[[4.2,4.3,0,1,1],[5.2,6,1,2,3],[8,10,2],[12,14,2]],[[0.1,0.15,1,1,1],[4.1,4.2,3,4,1],[8,8.5],[12,12.5]]]
];
const rasterC = [
 [[[0,1.2,0,2,4],[4,6,2],[8,10,1],[12,14,1]],[[0,2,1],[4,6,1],[8,10,1],[12,14,1]],[[0,0.5,0,1,4],[4,6,0,4,3],[8,10,1.5],[12,14,1]]],
 [[[0,2,2],[4,6,1.5],[8,10,1],[12,14,1]],[[0,2,1],[3.5,3.55,2,2,1],[4,6,1],[8,10,1],[12,14,1]],[[0,2,2.5],[4,6,2],[8,10,1.5],[12,14,1.5]]],
 [[[0,2,1.5],[4,6,1],[8,10,1],[12,14,1]],[[0,2,1],[2.6,4,0,2,2],[4,6,1],[6.6,7.2,1,2,3],[8,10,1],[12,14,1]],[[0,2,1.5],[2.7,3.8,3,4,3],[4,6,1],[8,10,1],[12,14,1]]],
 [[[0,2,1.5],[4,6,1],[8,10,1],[12,14,1]],[[0,2,1],[3.5,3.7,2,3,2],[4,6,1],[8,10,1],[12,14,1]],[[0,1.5,0,2,3],[4,6,2],[8,10,1.5],[12,14,1.5]]],
 [[[0,1.2,0,2,2],[2.6,4,0,2,2],[4,6,1.5],[8,10,1.5],[12,14,1.5]],[[0,2,1],[2.6,4,1.5],[4,6,1],[8,10,1],[12,14,1]],[[0,1,0,1,4],[4,6,3],[8,10,2],[12,14,2]]],
 [[[0,2,0,2,3],[4,6,1.5],[8,10,1.5],[12,14,1.5]],[[0,2,1],[2.2,2.5,1,2,3],[3.3,3.4,1,1,1],[4,6,1],[8,10.2,1],[12,14.2,1]],[[0,1,2,4,4],[4,6,2],[8,10,2],[12,14,2]]]
];
const rasterD = [
 [[[0.55,0.6,0,0,1],[2.05,2.3],[4.5,4.8,0,3,1],[6.05,6.3],[8.5,8.8],[10.05,10.3],[12.6,12.9],[14.05,14.3],[14.8,14.85,1,1,1]],[[2.05,2.3],[6.05,6.3],[8.6,8.65,2,2,1],[10.05,10.3],[14.05,14.3]],[[2.05,2.3],[4.55,4.75,1,3,2],[6.05,6.3],[8.5,8.8],[10.05,10.3],[12.6,12.9],[14.05,14.3]]],
 [[[0.6,0.65,3,3,1],[0.9,0.95,0,0,1],[1.1,1.15,3,3,1],[2.05,2.3],[4.3,4.8,0,3,2],[5.7,5.75,2,2,1],[6.05,6.3],[8.3,8.7],[9.8,9.85,0,0,1],[10.05,10.3],[11.4,11.45,0,0,1],[12.5,12.9],[14.05,14.3],[15.3,15.35,2,2,1],[15.9,15.95,0,0,1]],[[2.05,2.3],[6.05,6.3],[10.05,10.3],[10.3,10.35,2,2,1],[14.05,14.3],[14.3,15,0,3,4]],[[0.4,0.45,3,3,1],[2.05,2.3],[4.4,4.7,1,4,2],[6.05,6.3],[8.4,8.7,0,4,2],[10.05,10.3],[12.5,12.9,0,4,2],[14.05,14.3]]],
 [[[2.05,2.3],[4.6,4.7,1,2,1],[6.05,6.3],[8.5,8.7],[10.05,10.3],[12.5,12.8],[14.05,14.3]],[[2.05,2.3],[6.05,6.3],[10.05,10.3],[10.3,10.5,1,1,2],[14.05,14.3],[15.5,15.55,0,0,1]],[[0.8,0.85,3,3,1],[2.05,2.3],[4.5,4.7,1,2,1],[6.05,6.3],[7,7.05,1,1,1],[8.5,8.7,1,3,1],[10.05,10.3],[12.5,12.7,1,3,1],[14.05,14.3],[14.9,14.95,1,1,1]]],
 [[[0.8,0.85,0,0,1],[2.05,2.3],[3,3.05,0,0,1],[4.3,4.7,0,2,2],[6.05,6.3],[7.6,7.65,1,1,1],[8.3,8.8,0,3,1],[10.05,10.3],[11,11.05,0,0,1],[12.3,12.9],[14.05,14.3]],[[2.05,2.3],[6.05,6.3],[8.5,8.6,2,2,1],[10.05,10.3],[12.4,12.6,1,2,2],[14.05,14.3],[14.5,15.5,1,2,4]],[[0.9,0.95,3,3,1],[2.05,2.3],[4.4,4.7],[6.05,6.3],[8.4,8.8],[10.05,10.3],[12.4,12.9],[14.05,14.3],[14.8,15.2,2,3,4]]],
 [[[0.1,1.6,0,1,4],[2,2.2],[2.8,3.6,0,0,4],[4.4,4.7,0,2,2],[5.1,6,0,0,4],[6.05,6.3],[7,7.8,0,0,5],[8.4,8.7,0,1,2],[10.05,10.3],[10.6,11.2,0,0,4],[12.4,12.8,0,1,2],[14.05,14.3],[15,15.8,0,0,4]],[[0.8,1.5,1,2,4],[2.05,2.3],[3.2,3.5,1,1,3],[4.5,4.55,2,2,1],[6.05,6.3],[7.4,7.8,1,1,4],[10.05,10.3],[14.05,14.3],[15.7,15.75,2,2,1]],[[0.4,1.5,1,3,4],[2.05,2.3],[3,3.8,1,3,4],[4.4,4.7,1,3,2],[6.05,6.3],[7.4,7.6,1,2,3],[8.4,8.7],[10.05,10.3],[12.4,12.7],[14.05,14.3]]],
 [[[0.7,0.9,0,0,2],[2.05,2.3],[4.4,4.8,0,3,1],[6.05,6.3],[8.4,8.8],[10.05,10.3],[11,11.05,0,0,1],[12.4,12.8],[13,13.05,1,1,1],[14.05,14.3],[14.4,14.5,0,0,1]],[[2.05,2.3],[6.05,6.3],[8.4,8.7,1,2,2],[10.05,10.3],[12.4,12.7,1,3,2],[14.05,14.3]],[[0.7,1,1,1,1],[2.05,2.3],[4.4,4.8],[6.05,6.3],[7,7.05,2,2,1],[8.4,8.8],[10.05,10.3],[12.4,12.9],[14.05,14.3],[14.7,15.6,1,1,5]]]
];
const rasterE = [
 [[[0.25,0.3,0,0,1],[2.05,2.35],[4.4,4.65,0,3,1],[6.05,6.35],[6.4,7,1,2,4],[7.4,7.5,2,2,1],[7.9,7.95,2,2,1],[8.4,8.9],[10.05,10.35],[10.4,11.2,0,1,4],[12.5,13],[14.05,14.3],[14.4,14.8,1,2,3],[15.2,15.25,1,1,1]],[[2.05,2.4],[6.05,6.35],[6.5,6.55,3,3,1],[8.5,8.7,0,1,2],[10.05,10.35],[10.5,11.5,2,3,4],[12.6,12.8,0,2,2],[14.05,14.35],[15.5,15.9,3,3,3]],[[0.3,0.35,1,1,1],[2.05,2.3],[4.4,4.7,1,4,1],[6.05,6.3],[7.4,7.45,2,2,1],[8.4,8.9],[10.05,10.3],[12.5,13],[14.05,14.3]]],
 [[[2.05,2.3],[6.05,6.3],[8.5,8.7,0,2,2],[10.05,10.3],[12.5,12.9,0,3,1],[14.05,14.3]],[[2.05,2.35],[6.05,6.35],[10.05,10.35],[14.05,14.35]],[[2.05,2.3],[6.05,6.3],[8.4,8.8,1,3,2],[10.05,10.3],[12.5,12.9,1,4,1],[14.05,14.3]]],
 [[[2.05,2.4],[4.5,4.7,0,2,2],[6.05,6.35],[8.5,8.9],[10.05,10.3],[12.5,13],[14.05,14.35]],[[2.05,2.4,2],[6.05,6.4],[8.6,8.7,1,3,2],[10.05,10.4],[10.4,10.5,1,1,1],[14.05,14.4],[14.6,14.8,1,1,3]],[[0.8,0.85,3,3,1],[2.1,2.3,1,4,2],[4.5,4.8,1,4,1],[6.05,6.35],[8.5,8.8,0,3,2],[10.05,10.35],[12.5,12.9,1,3,1],[14.05,14.35]]],
 [[[0.7,0.75,0,0,1],[2.05,2.3],[4.5,4.7,0,2,1],[6.05,6.3],[8.5,8.8,0,2,1],[10.05,10.3],[12.5,12.9,0,3,1],[14.05,14.3]],[[2.05,2.3,0,2,1],[6.05,6.3],[10.05,10.3],[14.05,14.3]],[[0.6,0.8,2,2,1],[2.05,2.3],[4.5,4.7,1,3,1],[6.05,6.3],[8.5,8.8,1,3,1],[10.05,10.3],[12.5,12.9,1,3,1],[14.05,14.3]]],
 [[[0.3,0.35,1,1,1],[1.4,1.45,0,0,1],[2.05,2.35],[4.5,4.7,0,3,1],[6.05,6.3],[7.3,7.35,0,0,1],[8.5,8.8,0,2,1],[10.05,10.3],[11.2,11.25,0,0,1],[12.5,12.9,0,3,1],[14.05,14.3],[15.4,15.45,1,1,1]],[[2.05,2.35],[6.05,6.35],[10.05,10.35],[14,14.35]],[[0.7,0.75,1,1,1],[1.2,1.25,2,2,1],[2.05,2.35],[4.5,4.7,1,3,1],[6.05,6.3],[8.5,8.8],[10.05,10.3],[12.5,12.9,1,3,1],[14.05,14.3],[14.4,14.45,2,2,1]]],
 [[[2.05,2.35],[4.4,4.45,0,0,1],[5.6,5.65,0,0,1],[6.05,6.35],[8.4,8.9,0,3,2],[10.05,10.3],[12.5,13,0,3,2],[14.05,14.35]],[[2.05,2.4],[6.05,6.4],[10.05,10.4],[14.05,14.4],[15.5,15.8,1,1,3]],[[2.05,2.35],[6.05,6.35],[8.4,9,1,3,2],[10.05,10.35],[12.4,13.1,1,3,2],[14.05,14.35]]]
];
const rasterF = [
 [[[0.2,2,0,4,4],[2,4,1],[4.2,6,0,4,4],[6,8,1],[8.2,10,0,4,5],[10,12,1],[12.2,14,0,4,5],[14,16,1]],[[0,2,0,4,4],[2,4,1.5],[4,6,0,4,4],[6,8,1.5],[8,10,0,4,4],[10,12,1.5],[12,14,0,4,5],[14,16,1.5]],[[0.3,2,0,4,3],[2,4,1],[4.3,6,0,4,4],[6,8,1],[8.3,10,0,4,4],[10,12,1],[12.4,14,0,4,5],[14,16,1]]],
 [[[0,2,2],[2,4,1],[4,6,2],[6,8,1],[8,10,2],[10,12,1],[12,14,2],[14,16,1]],[[0,2,4],[2,4,2],[4,6,4],[6,8,2],[8,10,4],[10,12,2],[12,14,4],[14,16,2]],[[0,2,3],[2,4,1.5],[4,6,3],[6,8,1.5],[8,10,3],[10,12,1.5],[12,14,3],[14,16,1.5]]],
 [[[0.2,1.8,0,2,5],[2,4,1.5],[4.2,5.8,0,1,5],[6,8,1],[8.3,8.8,0,1,4],[10,12,1],[12.4,12.6,0,1,3],[14,16,1]],[[0,1,1,2,5],[2,4,2],[6,8,1.5],[10,12,1.5],[14,16,1.5]],[[0,2,1,3,5],[2,4,1.5],[4.3,5.8,1,3,5],[6,8,1],[8.2,9.7,2,3,5],[10,12,1],[12.3,13.3,1,3,5],[14,16,1]]],
 [[[0,2,0,2,4],[2,4,1.5],[4.1,5.8,0,1,5],[6,8,1],[8.2,8.6,0,1,4],[10,12,1],[12.2,13.5,0,1,5],[14,16,1]],[[2,4,1.5],[6,8,1.5],[10,12,1.5],[14,16,1.5]],[[0.2,2,2,4,5],[2,4,1],[6,8,1],[10,12,1],[14,16,1]]],
 [[[0,2,2],[2,4,1],[4,6,3],[6,8,1],[8,10,3],[10,12,1],[12,14,3],[14,16,1]],[[0,2,2],[2,4,1.5],[4,6,2.5],[6,8,1.5],[8,10,3],[10,12,1.5],[12,14,3],[14,16,1.5]],[[0,2,3],[2,4,1],[4,6,4],[6,8,1],[8,10,4],[10,12,1],[12,14,4],[14,16,1]]],
 [[[0,2,0,2,3],[2,4,1],[4,6,0,2,3],[6,8,1],[8,10,0,2,3],[10,12,1],[12,14,0,2,3],[14,16,1]],[[0,2,4],[2,4,1.5],[4,6,4],[6,8,1.5],[8,10,4],[10,12,1.5],[12,14,4],[14,16,1.5]],[[0,2,4],[2,4,1],[4,6,4],[6,8,1],[8,10,4],[10,12,1],[12,14,4],[14,16,1]]]
];

// ---------------- LAYOUT / STYLE ----------------
const COLORS = ['#111111', '#e07a4b', '#2d3491'];
const FONT = 'Liberation Sans, Arial, sans-serif';
const TOP_BASE = [232, 358.5, 485, 612.5, 739, 866];
const BOT_BASE = [1167, 1293.5, 1419.5, 1546, 1675, 1802];
const LAYOUT = [
 {x0:22, x1:379, base:[230,358,485.5,612.5,739,866], dTop:96, dBot:877, sTop:879, outline:false, lab:[19.5,74], tit:[207,85], sbT:14.76, sbBot:921, hz:[346,907], sec:[364,934]},
 {x0:465.4, x1:823.5, base:TOP_BASE, dTop:96, dBot:877, sTop:879, outline:true, lab:[466,74], tit:[656,85], sbT:14.98, sbBot:920, hz:[794,910], sec:[813,933]},
 {x0:914, x1:1272, base:TOP_BASE, dTop:96, dBot:877, sTop:879, outline:true, lab:[915.5,74], tit:[1105,85], sbT:15.0, sbBot:920, hz:[1246,913], sec:[1262,934]},
 {x0:19.6, x1:378.3, base:BOT_BASE, dTop:1030, dBot:1813, sTop:1815.5, outline:true, lab:[18.5,1006], tit:[209,1019], sbT:14.9, sbBot:1858, hz:[347,1849], sec:[366,1870]},
 {x0:464.5, x1:825, base:BOT_BASE, dTop:1030, dBot:1813, sTop:1815.5, outline:true, lab:[466,1006], tit:[653,1019], sbT:14.92, sbBot:1857, hz:[797,1846], sec:[814,1869]},
 {x0:914.5, x1:1273.3, base:BOT_BASE, dTop:1030, dBot:1813, sTop:1815.5, outline:false, lab:[914.5,1006], tit:[1101,1019], sbT:14.94, sbBot:1857, hz:[1246,1846], sec:[1262,1869]}
];
const PSTH_H = 62, PSTH_MAX = 124;   // 0.5 px per Hz
const RAST_OFF = 87, RAST_H = 33;

// ---------------- BUILD ----------------
const psthAll = [psthA, psthB, psthC, psthD, psthE, psthF];
const rastAll = [rasterA, rasterB, rasterC, rasterD, rasterE, rasterF];
const grid = [], xAxis = [], yAxis = [], series = [], graphic = [];
function addGrid(L, top, height, ymin, ymax, inverse) {
  const i = grid.length;
  grid.push({left: L.x0, width: L.x1 - L.x0, top: top, height: height, show: false});
  xAxis.push({type: 'value', gridIndex: i, min: -1, max: 16, show: false});
  yAxis.push({type: 'value', gridIndex: i, min: ymin, max: ymax, inverse: !!inverse, show: false});
  return i;
}
function decode(bursts, dt) {
  const n = Math.round(16 / dt);
  const arr = new Array(n + 1).fill(0);
  bursts.forEach(b => {
    const i0 = Math.round(b[0] / dt);
    for (let k = 1; k < b.length; k++) { const i = i0 + k - 1; if (i <= n) arr[i] = b[k]; }
  });
  return arr.map((v, i) => [+(i * dt).toFixed(2), v]);
}
function rasterItems(cell) {
  const out = [];
  cell.forEach((list, c) => list.forEach(e => {
    let r0 = 0, r1 = 4, d = 1;
    if (e.length === 3) d = e[2];
    else if (e.length === 4) { r0 = e[2]; r1 = e[3]; }
    else if (e.length === 5) { r0 = e[2]; r1 = e[3]; d = e[4]; }
    for (let r = r0; r <= r1; r++) out.push([e[0], e[1], c * 5 + r + 0.5, d, c]);
  }));
  return out;
}
// spike-tick texture: irregular dash rhythm, shifted per trial row so ticks do not line up
const rasterRender = (params, api) => {
  const a = api.coord([api.value(0), api.value(2)]);
  const b = api.coord([api.value(1), api.value(2)]);
  const d = api.value(3);
  const row = api.value(2);
  const style = {stroke: COLORS[api.value(4)], lineWidth: 1.6};
  if (d > 1) {
    const g = 0.4 + (d - 1) * 1.7;
    const dash = [1.4, g * 0.6, 1.4, g * 1.6, 1.4, g * 0.9, 1.4, g * 1.3, 1.4, g * 0.6];
    const period = dash.reduce((s, v) => s + v, 0);
    style.lineDash = dash;
    style.lineDashOffset = (row * 7.3 + api.value(0) * 13.1) % period;
  }
  return {type: 'line', shape: {x1: a[0], y1: a[1], x2: Math.max(b[0], a[0] + 1.4), y2: b[1]}, style: style};
};

LAYOUT.forEach((L, p) => {
  // dashed transition lines
  const gd = addGrid(L, L.dTop, L.dBot - L.dTop, 0, 1);
  series.push({type: 'custom', xAxisIndex: gd, yAxisIndex: gd, silent: true, z: 1,
    encode: {x: 0, y: 1}, data: transitionTimes.map(t => [t, 0]),
    renderItem: (pr, api) => {
      const a = api.coord([api.value(0), 0]), b = api.coord([api.value(0), 1]);
      return {type: 'line', shape: {x1: a[0], y1: a[1], x2: b[0], y2: b[1]},
        style: {stroke: '#8e8e8e', lineWidth: 1.7, lineDash: [2.2, 1.6]}};
    }});
  // stimulus bar
  const gs = addGrid(L, L.sTop, 10, 0, 1);
  series.push({type: 'custom', xAxisIndex: gs, yAxisIndex: gs, silent: true, z: 2,
    encode: {x: [0, 1]}, data: stimStart.map((s, i) => [s, stimEnd[i], stimLum[i]]),
    renderItem: (pr, api) => {
      const a = api.coord([api.value(0), 1]), b = api.coord([api.value(1), 0]);
      const lum = api.value(2);
      const g = Math.round(lum * 255);
      const st = {fill: 'rgb(' + g + ',' + g + ',' + g + ')'};
      if (lum >= 1 && L.outline) { st.stroke = '#d4d4d4'; st.lineWidth = 0.8; }
      return {type: 'rect', shape: {x: a[0], y: a[1], width: b[0] - a[0], height: b[1] - a[1]}, style: st};
    }});
  // scale bar
  const gb = addGrid(L, L.sbBot - scaleBarHz * PSTH_H / PSTH_MAX, scaleBarHz * PSTH_H / PSTH_MAX, 0, scaleBarHz);
  series.push({type: 'line', xAxisIndex: gb, yAxisIndex: gb, silent: true, symbol: 'none', z: 3,
    data: [[L.sbT, scaleBarHz], [L.sbT, 0], [L.sbT + scaleBarSec, 0]],
    lineStyle: {color: '#111', width: 1.6}});
  // cells
  for (let c = 0; c < 6; c++) {
    const base = L.base[c];
    const gr = addGrid(L, base - RAST_OFF, RAST_H, 0, 15, true);
    series.push({type: 'custom', xAxisIndex: gr, yAxisIndex: gr, silent: true, z: 4,
      encode: {x: [0, 1], y: 2}, data: rasterItems(rastAll[p][c]), renderItem: rasterRender});
    const gp = addGrid(L, base - PSTH_H, PSTH_H, 0, PSTH_MAX);
    [0, 1, 2].forEach(k => {
      series.push({type: 'line', name: conditionNames[k], xAxisIndex: gp, yAxisIndex: gp,
        data: decode(psthAll[p][c][k], psthStep[p]), symbol: 'none', silent: true,
        smooth: 0.2, smoothMonotone: 'x', color: COLORS[k], z: 5 + k,
        lineStyle: {color: COLORS[k], width: k === 2 ? 2.6 : 2.3}});
    });
  }
  // texts
  graphic.push({type: 'text', x: L.lab[0], y: L.lab[1], style: {text: panelLetters[p],
    font: '30px ' + FONT, fill: '#111', textAlign: 'center', textVerticalAlign: 'middle'}, silent: true});
  graphic.push({type: 'text', x: L.tit[0], y: L.tit[1], style: {
    text: '({it|' + panelNumerals[p] + '}) ' + panelTitles[p],
    font: '16px ' + FONT, fill: '#1a1a1a', textAlign: 'center', textVerticalAlign: 'middle',
    rich: {it: {fontStyle: 'italic', fontSize: 16, fontFamily: FONT, fill: '#1a1a1a'}}}, silent: true});
  graphic.push({type: 'text', x: L.hz[0], y: L.hz[1], style: {text: scaleBarHz + ' Hz',
    font: '15px ' + FONT, fill: '#1a1a1a', textAlign: 'right', textVerticalAlign: 'middle'}, silent: true});
  graphic.push({type: 'text', x: L.sec[0], y: L.sec[1], style: {text: scaleBarSec + ' s',
    font: '15px ' + FONT, fill: '#1a1a1a', textAlign: 'center', textVerticalAlign: 'middle'}, silent: true});
});

const chart = echarts.init(document.getElementById('c'), null, {renderer: 'canvas'});
chart.setOption({
  animation: false,
  backgroundColor: '#fff',
  legend: {data: conditionNames.map(n => ({name: n, icon: 'rect'})), orient: 'vertical', left: 1207, top: 6,
    itemWidth: 23, itemHeight: 3, itemGap: 4, selectedMode: false,
    textStyle: {fontSize: 15, fontFamily: FONT, color: '#1a1a1a'}},
  grid, xAxis, yAxis, series, graphic
});
</script></body></html>
